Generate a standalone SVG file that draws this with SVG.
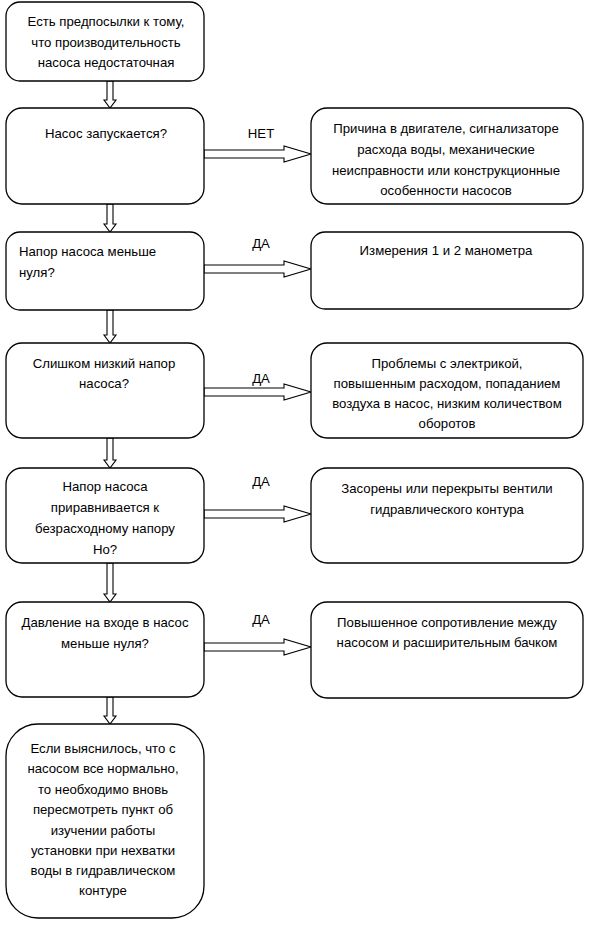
<svg xmlns="http://www.w3.org/2000/svg" width="591" height="931" viewBox="0 0 591 931">
<style>
.box{fill:#fff;stroke:#000;stroke-width:1.3}
.arr{fill:#fff;stroke:#000;stroke-width:1.1;stroke-linejoin:miter}
text{font-family:"Liberation Sans",Arial,sans-serif;font-size:13.2px;fill:#000}
.c{text-anchor:middle}
.lbl{text-anchor:middle}
</style>
<rect width="591" height="931" fill="#fff"/>
<g id="connectors">
<path class="arr" d="M107,81 L113,81 L113,100 L116,100 L110,108 L104,100 L107,100 Z"/>
<path class="arr" d="M107,204 L113,204 L113,224 L116,224 L110,232 L104,224 L107,224 Z"/>
<path class="arr" d="M107,310 L113,310 L113,335 L116,335 L110,343 L104,335 L107,335 Z"/>
<path class="arr" d="M107,438 L113,438 L113,460 L116,460 L110,468 L104,460 L107,460 Z"/>
<path class="arr" d="M107,563 L113,563 L113,594 L116,594 L110,602 L104,594 L107,594 Z"/>
<path class="arr" d="M107,697 L113,697 L113,716 L116,716 L110,724 L104,716 L107,716 Z"/>
<path class="arr" d="M204,150 L284,150 L284,146 L311,154 L284,162 L284,158 L204,158 Z"/>
<path class="arr" d="M204,265 L284,265 L284,261 L311,269 L284,277 L284,273 L204,273 Z"/>
<path class="arr" d="M204,388 L284,388 L284,384 L311,392 L284,400 L284,396 L204,396 Z"/>
<path class="arr" d="M204,510 L284,510 L284,506 L311,514 L284,522 L284,518 L204,518 Z"/>
<path class="arr" d="M204,643 L284,643 L284,639 L311,647 L284,655 L284,651 L204,651 Z"/>
<text class="lbl" x="261" y="138">НЕТ</text>
<text class="lbl" x="261" y="248">ДА</text>
<text class="lbl" x="261" y="383">ДА</text>
<text class="lbl" x="261" y="486">ДА</text>
<text class="lbl" x="261" y="624">ДА</text>
</g>
<g id="n1">
<rect class="box" x="6" y="2" width="198" height="79" rx="14"/>
<text class="c" x="106" y="26">Есть предпосылки к тому,</text>
<text class="c" x="106" y="47">что производительность</text>
<text class="c" x="106" y="67">насоса недостаточная</text>
</g>
<g id="n2">
<rect class="box" x="6" y="108" width="198" height="96" rx="16"/>
<text class="c" x="106" y="138">Насос запускается?</text>
</g>
<g id="n3">
<rect class="box" x="6" y="232" width="198" height="78" rx="14"/>
<text x="19" y="256">Напор насоса меньше</text>
<text x="19" y="277">нуля?</text>
</g>
<g id="n4">
<rect class="box" x="6" y="343" width="198" height="95" rx="16"/>
<text class="c" x="104" y="368">Слишком низкий напор</text>
<text class="c" x="104" y="388">насоса?</text>
</g>
<g id="n5">
<rect class="box" x="6" y="468" width="198" height="95" rx="16"/>
<text class="c" x="105" y="491">Напор насоса</text>
<text class="c" x="105" y="512">приравнивается к</text>
<text class="c" x="105" y="533">безрасходному напору</text>
<text class="c" x="105" y="554">Но?</text>
</g>
<g id="n6">
<rect class="box" x="6" y="602" width="198" height="95" rx="16"/>
<text class="c" x="105" y="627">Давление на входе в насос</text>
<text class="c" x="105" y="648">меньше нуля?</text>
</g>
<g id="n7">
<rect class="box" x="6" y="724" width="198" height="194" rx="32"/>
<text class="c" x="103" y="753">Если выяснилось, что с</text>
<text class="c" x="103" y="773">насосом все нормально,</text>
<text class="c" x="103" y="794">то необходимо вновь</text>
<text class="c" x="103" y="814">пересмотреть пункт об</text>
<text class="c" x="103" y="835">изучении работы</text>
<text class="c" x="103" y="855">установки при нехватки</text>
<text class="c" x="103" y="875">воды в гидравлическом</text>
<text class="c" x="103" y="895">контуре</text>
</g>
<g id="r1">
<rect class="box" x="311" y="108" width="272" height="96" rx="16"/>
<text class="c" x="446" y="133">Причина в двигателе, сигнализаторе</text>
<text class="c" x="446" y="154">расхода воды, механические</text>
<text class="c" x="446" y="175">неисправности или конструкционные</text>
<text class="c" x="446" y="195">особенности насосов</text>
</g>
<g id="r2">
<rect class="box" x="311" y="232" width="272" height="77" rx="14"/>
<text class="c" x="446" y="255">Измерения 1 и 2 манометра</text>
</g>
<g id="r3">
<rect class="box" x="311" y="343" width="272" height="95" rx="16"/>
<text class="c" x="447" y="368">Проблемы с электрикой,</text>
<text class="c" x="447" y="388">повышенным расходом, попаданием</text>
<text class="c" x="447" y="408">воздуха в насос, низким количеством</text>
<text class="c" x="447" y="428">оборотов</text>
</g>
<g id="r4">
<rect class="box" x="311" y="468" width="272" height="95" rx="16"/>
<text class="c" x="447" y="493">Засорены или перекрыты вентили</text>
<text class="c" x="447" y="514">гидравлического контура</text>
</g>
<g id="r5">
<rect class="box" x="311" y="602" width="272" height="96" rx="16"/>
<text class="c" x="447" y="627">Повышенное сопротивление между</text>
<text class="c" x="447" y="647">насосом и расширительным бачком</text>
</g>
</svg>
